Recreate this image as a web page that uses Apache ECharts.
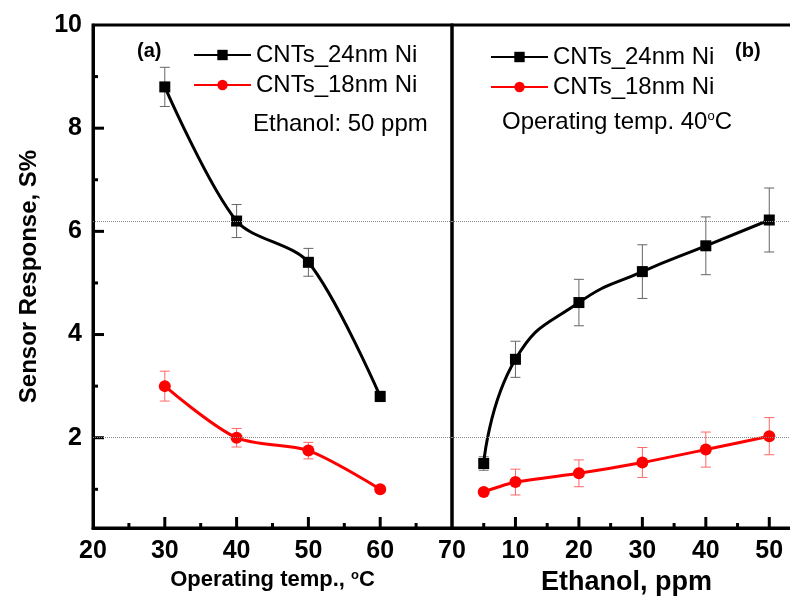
<!DOCTYPE html>
<html>
<head>
<meta charset="utf-8">
<script src="https://cdn.jsdelivr.net/npm/echarts@6/dist/echarts.min.js"></script>
<style>
  html, body { margin: 0; padding: 0; background: #fff; }
  #main { width: 790px; height: 599px; }
</style>
</head>
<body>
<div id="main"></div>
<script>
// (a) operating temperature, ethanol 50 ppm
var temps = [30, 40, 50, 60];
var resp24Temp = [8.8, 6.2, 5.4, 2.8];
var err24Temp = [0.38, 0.32, 0.27, 0.1];
var resp18Temp = [3.0, 2.0, 1.75, 1.0];
var err18Temp = [0.29, 0.18, 0.16, 0.04];

// (b) ethanol concentration, 40 C
var ppms = [5, 10, 20, 30, 40, 50];
var resp24Eth = [1.5, 3.52, 4.62, 5.22, 5.72, 6.22];
var err24Eth = [0.13, 0.35, 0.45, 0.52, 0.56, 0.62];
var resp18Eth = [0.95, 1.14, 1.31, 1.52, 1.77, 2.03];
var err18Eth = [0.05, 0.25, 0.26, 0.29, 0.34, 0.36];

// tick positions
var yLabels = [2, 4, 6, 8, 10];
var yMajor = [2, 4, 6, 8];
var yMinor = [1, 3, 5, 7, 9];
var xMajorTemp = [30, 40, 50, 60];
var xMinorTemp = [25, 35, 45, 55, 65];
var xMajorPpm = [10, 20, 30, 40, 50];
var xMinorPpm = [5, 15, 25, 35, 45];
var refLines = [6.2, 2];

var Y_MIN = 0.25, Y_MAX = 10;
var FONT = '"Liberation Sans", Arial, sans-serif';

function pairs(xs, ys) {
    var out = [];
    for (var i = 0; i < xs.length; i++) out.push([xs[i], ys[i]]);
    return out;
}
function errPairs(xs, ys, es) {
    var out = [];
    for (var i = 0; i < xs.length; i++) out.push([xs[i], ys[i] - es[i], ys[i] + es[i]]);
    return out;
}

function errBar(color) {
    return function (params, api) {
        var lo = api.coord([api.value(0), api.value(1)]);
        var hi = api.coord([api.value(0), api.value(2)]);
        var w = 5;
        var st = { stroke: color, lineWidth: 1 };
        return {
            type: 'group',
            children: [
                { type: 'line', shape: { x1: hi[0], y1: hi[1], x2: lo[0], y2: lo[1] }, style: st },
                { type: 'line', shape: { x1: hi[0] - w, y1: hi[1], x2: hi[0] + w, y2: hi[1] }, style: st },
                { type: 'line', shape: { x1: lo[0] - w, y1: lo[1], x2: lo[0] + w, y2: lo[1] }, style: st }
            ]
        };
    };
}

// inward tick marks, placed through the axes' own scales
// data rows: [x, y, length]; vertical ticks sit on the x axis, horizontal on the y axis
function tickSeries(xi, yi, rows, vertical) {
    return {
        type: 'custom', xAxisIndex: xi, yAxisIndex: yi, silent: true, z: 4,
        data: rows,
        renderItem: function (params, api) {
            var p = api.coord([api.value(0), api.value(1)]);
            var len = api.value(2);
            var shape = vertical
                ? { x1: p[0], y1: p[1], x2: p[0], y2: p[1] - len }
                : { x1: p[0], y1: p[1], x2: p[0] + len, y2: p[1] };
            return { type: 'line', shape: shape, style: { stroke: '#000', lineWidth: 3 } };
        }
    };
}
function xTickRows(values, len) {
    return values.map(function (v) { return [v, Y_MIN, len]; });
}
function yTickRows(xAt, values, len) {
    return values.map(function (v) { return [xAt, v, len]; });
}

var refMark = {
    silent: true,
    symbol: 'none',
    label: { show: false },
    lineStyle: { color: '#888', type: 'dotted', width: 1 },
    data: refLines.map(function (v) { return { yAxis: v }; })
};

function tickLabel() { return { color: '#000', fontSize: 25, fontWeight: 'bold', fontFamily: FONT, margin: 11 }; }
var xLeftLabel = tickLabel();
var xRightLabel = tickLabel();
xRightLabel.formatter = function (v) { return (v === 0 || v === 55) ? '' : v; };
var yLabel = tickLabel();
yLabel.customValues = yLabels;

var myChart = echarts.init(document.getElementById('main'));
var option = {
    backgroundColor: '#fff',
    animation: false,
    grid: [
        { left: 93, top: 25, width: 359, height: 503, show: true, borderColor: '#000', borderWidth: 3, outerBoundsMode: 'none' },
        { left: 452, top: 25, width: 349, height: 503, show: true, borderColor: '#000', borderWidth: 3, outerBoundsMode: 'none' }
    ],
    xAxis: [
        {
            gridIndex: 0, type: 'value', min: 20, max: 70, interval: 10,
            axisLine: { show: true, lineStyle: { color: '#000', width: 3 } },
            axisTick: { show: false },
            splitLine: { show: false },
            axisLabel: xLeftLabel,
            name: 'Operating temp., {sup|o}C',
            nameLocation: 'middle', nameGap: 40,
            nameTextStyle: { color: '#000', fontSize: 22, fontWeight: 'bold', fontFamily: FONT,
                rich: { sup: { fontSize: 13, fontWeight: 'bold', verticalAlign: 'top', padding: [0, 0, 4, 0], fontFamily: FONT } } }
        },
        {
            gridIndex: 1, type: 'value', min: 0, max: 55, interval: 10,
            axisLine: { show: true, lineStyle: { color: '#000', width: 3 } },
            axisTick: { show: false },
            splitLine: { show: false },
            axisLabel: xRightLabel,
            name: 'Ethanol, ppm',
            nameLocation: 'middle', nameGap: 38,
            nameTextStyle: { color: '#000', fontSize: 27, fontWeight: 'bold', fontFamily: FONT }
        }
    ],
    yAxis: [
        {
            gridIndex: 0, type: 'value', min: Y_MIN, max: Y_MAX,
            axisLine: { show: true, lineStyle: { color: '#000', width: 3 } },
            axisTick: { show: false },
            splitLine: { show: false },
            axisLabel: yLabel,
            name: 'Sensor Response, S%',
            nameLocation: 'middle', nameGap: 52,
            nameTextStyle: { color: '#000', fontSize: 24, fontWeight: 'bold', fontFamily: FONT }
        },
        {
            gridIndex: 1, type: 'value', min: Y_MIN, max: Y_MAX,
            axisLine: { show: false }, axisTick: { show: false },
            axisLabel: { show: false }, splitLine: { show: false }
        }
    ],
    legend: [
        {
            left: 193, top: 43, orient: 'vertical', padding: 0, itemGap: 6,
            itemWidth: 57, itemHeight: 13,
            textStyle: { color: '#000', fontSize: 24, fontFamily: FONT },
            data: ['CNTs_24nm Ni', 'CNTs_18nm Ni']
        },
        {
            left: 490, top: 45, orient: 'vertical', padding: 0, itemGap: 6,
            itemWidth: 57, itemHeight: 13,
            textStyle: { color: '#000', fontSize: 24, fontFamily: FONT },
            data: ['CNTs_24nm Ni', 'CNTs_18nm Ni']
        }
    ],
    graphic: [
        { type: 'text', left: 137, top: 41, style: { text: '(a)', fontSize: 20, fontWeight: 'bold', fill: '#000', fontFamily: FONT } },
        { type: 'text', left: 735, top: 41, style: { text: '(b)', fontSize: 20, fontWeight: 'bold', fill: '#000', fontFamily: FONT } },
        { type: 'text', left: 253, top: 112, style: { text: 'Ethanol: 50 ppm', fontSize: 24, fill: '#000', fontFamily: FONT } },
        { type: 'text', left: 502, top: 110, style: { text: 'Operating temp. 40{sup|o}C', fontSize: 24, fill: '#000', fontFamily: FONT,
            rich: { sup: { fontSize: 13, verticalAlign: 'top', padding: [0, 0, 4, 0], fontFamily: FONT } } } }
    ],
    series: [
        tickSeries(0, 0, xTickRows(xMajorTemp, 11).concat(xTickRows(xMinorTemp, 5)), true),
        tickSeries(1, 1, xTickRows(xMajorPpm, 11).concat(xTickRows(xMinorPpm, 5)), true),
        tickSeries(0, 0, yTickRows(20, yMajor, 11).concat(yTickRows(20, yMinor, 5)), false),
        {
            name: 'err24a', type: 'custom', xAxisIndex: 0, yAxisIndex: 0,
            renderItem: errBar('#666'), data: errPairs(temps, resp24Temp, err24Temp), z: 1
        },
        {
            name: 'err18a', type: 'custom', xAxisIndex: 0, yAxisIndex: 0,
            renderItem: errBar('#ff6666'), data: errPairs(temps, resp18Temp, err18Temp), z: 1
        },
        {
            name: 'err24b', type: 'custom', xAxisIndex: 1, yAxisIndex: 1,
            renderItem: errBar('#666'), data: errPairs(ppms, resp24Eth, err24Eth), z: 1
        },
        {
            name: 'err18b', type: 'custom', xAxisIndex: 1, yAxisIndex: 1,
            renderItem: errBar('#ff6666'), data: errPairs(ppms, resp18Eth, err18Eth), z: 1
        },
        {
            name: 'CNTs_24nm Ni', type: 'line', xAxisIndex: 0, yAxisIndex: 0,
            data: pairs(temps, resp24Temp), smooth: 0.3,
            symbol: 'rect', symbolSize: 11,
            lineStyle: { color: '#000', width: 3 }, itemStyle: { color: '#000' },
            markLine: refMark, z: 3
        },
        {
            name: 'CNTs_18nm Ni', type: 'line', xAxisIndex: 0, yAxisIndex: 0,
            data: pairs(temps, resp18Temp), smooth: 0.3,
            symbol: 'circle', symbolSize: 12,
            lineStyle: { color: '#ff0000', width: 3 }, itemStyle: { color: '#ff0000' }, z: 3
        },
        {
            name: 'CNTs_24nm Ni', type: 'line', xAxisIndex: 1, yAxisIndex: 1,
            data: pairs(ppms, resp24Eth), smooth: true,
            symbol: 'rect', symbolSize: 11,
            lineStyle: { color: '#000', width: 3 }, itemStyle: { color: '#000' },
            markLine: refMark, z: 3
        },
        {
            name: 'CNTs_18nm Ni', type: 'line', xAxisIndex: 1, yAxisIndex: 1,
            data: pairs(ppms, resp18Eth), smooth: 0.2,
            symbol: 'circle', symbolSize: 12,
            lineStyle: { color: '#ff0000', width: 3 }, itemStyle: { color: '#ff0000' }, z: 3
        }
    ]
};
myChart.setOption(option);
</script>
</body>
</html>
